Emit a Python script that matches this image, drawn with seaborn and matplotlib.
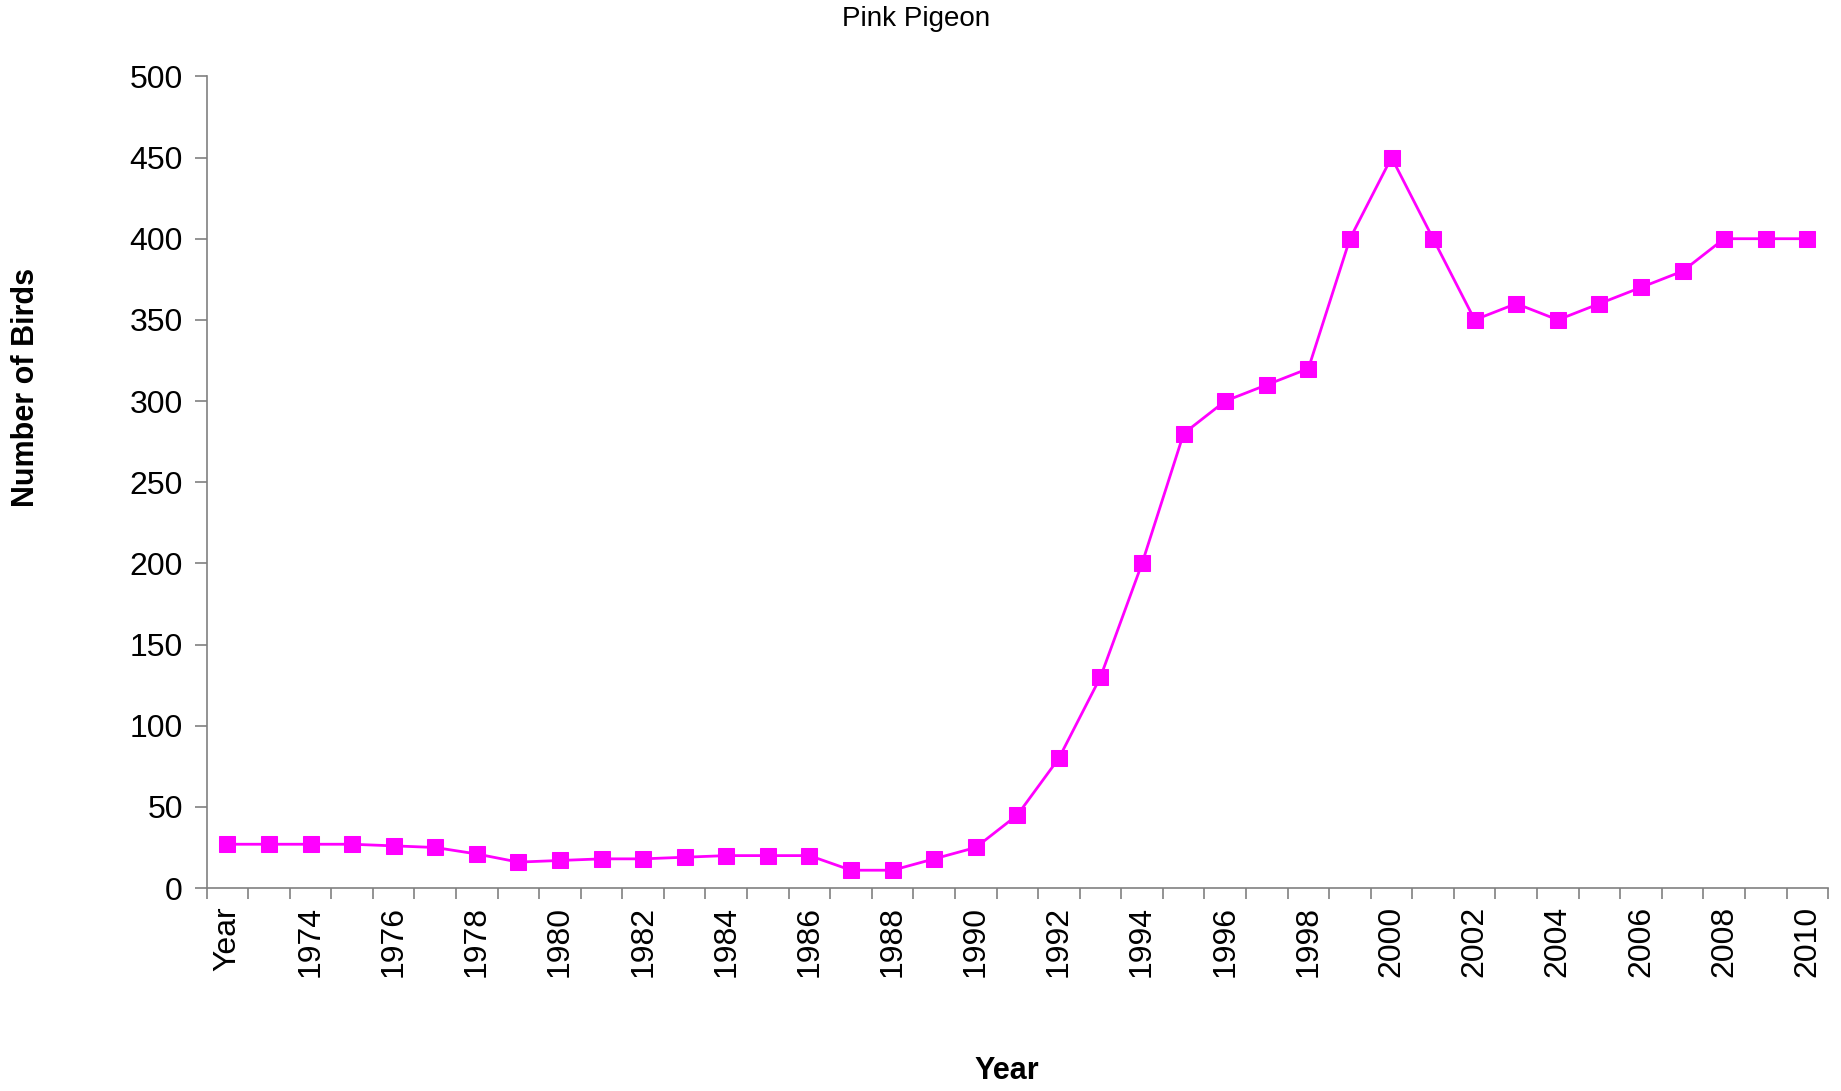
import numpy as np
import pandas as pd
import matplotlib
matplotlib.use("Agg")
import matplotlib.pyplot as plt
import seaborn as sns

# categories as in the source sheet (the header cell "Year" got plotted as the first point)
years = ["Year"] + [str(y) for y in range(1973, 2011)]
birds = [27, 27, 27, 27, 26, 25, 21, 16, 17, 18, 18, 19, 20, 20, 20, 11, 11, 18, 25,
         45, 80, 130, 200, 280, 300, 310, 320, 400, 450, 400, 350, 360, 350, 360,
         370, 380, 400, 400, 400]

df = pd.DataFrame({"year": years, "birds": birds})

sns.set_style("white", {"xtick.bottom": True, "ytick.left": True,
                        "text.color": "black", "xtick.color": "black", "ytick.color": "black"})
plt.rcParams['font.family'] = ['Liberation Sans', 'DejaVu Sans']

fig = plt.figure(figsize=(18.41, 10.91), dpi=100)
ax = fig.add_axes([0.1122, 0.186, 0.8808, 0.744])

sns.lineplot(data=df, x="year", y="birds", sort=False, ax=ax, color="#FF00FF",
             linewidth=2, marker="s", markersize=11, markeredgecolor="#FF00FF")

n = len(years)
ax.set_xlim(-0.5, n - 0.5)
ax.set_ylim(0, 500)
ax.set_yticks(np.arange(0, 501, 50))

ax.set_xticks(np.arange(0, n, 2))
ax.set_xticklabels(years[::2], rotation=90)
ax.set_xticks(np.arange(-0.5, n, 1), minor=True)
ax.tick_params(axis="x", which="major", length=0, pad=13, labelsize=23, labelcolor="black")
ax.tick_params(axis="x", which="minor", bottom=True, length=8, width=1.2, color="#808080", direction="out")
ax.tick_params(axis="y", left=True, length=9, width=1.2, color="#808080", direction="out", pad=8,
               labelsize=23, labelcolor="black")

for s in ["top", "right"]:
    ax.spines[s].set_visible(False)
for s in ["left", "bottom"]:
    ax.spines[s].set_color("#808080")
    ax.spines[s].set_linewidth(1.2)

ax.set_xlabel("")
ax.set_ylabel("")
fig.text(0.4976, 1 - 19 / 1091, "Pink Pigeon", ha="center", va="center", fontsize=20, color="black")
fig.text(1007 / 1841, 1 - 1071 / 1091, "Year", ha="center", va="center", fontsize=22,
         fontweight="bold", color="black")
fig.text(26 / 1841, 1 - 387.5 / 1091, "Number of Birds", ha="center", va="center",
         rotation=90, fontsize=22, fontweight="bold", color="black")

fig.savefig("out.png", dpi=100)
